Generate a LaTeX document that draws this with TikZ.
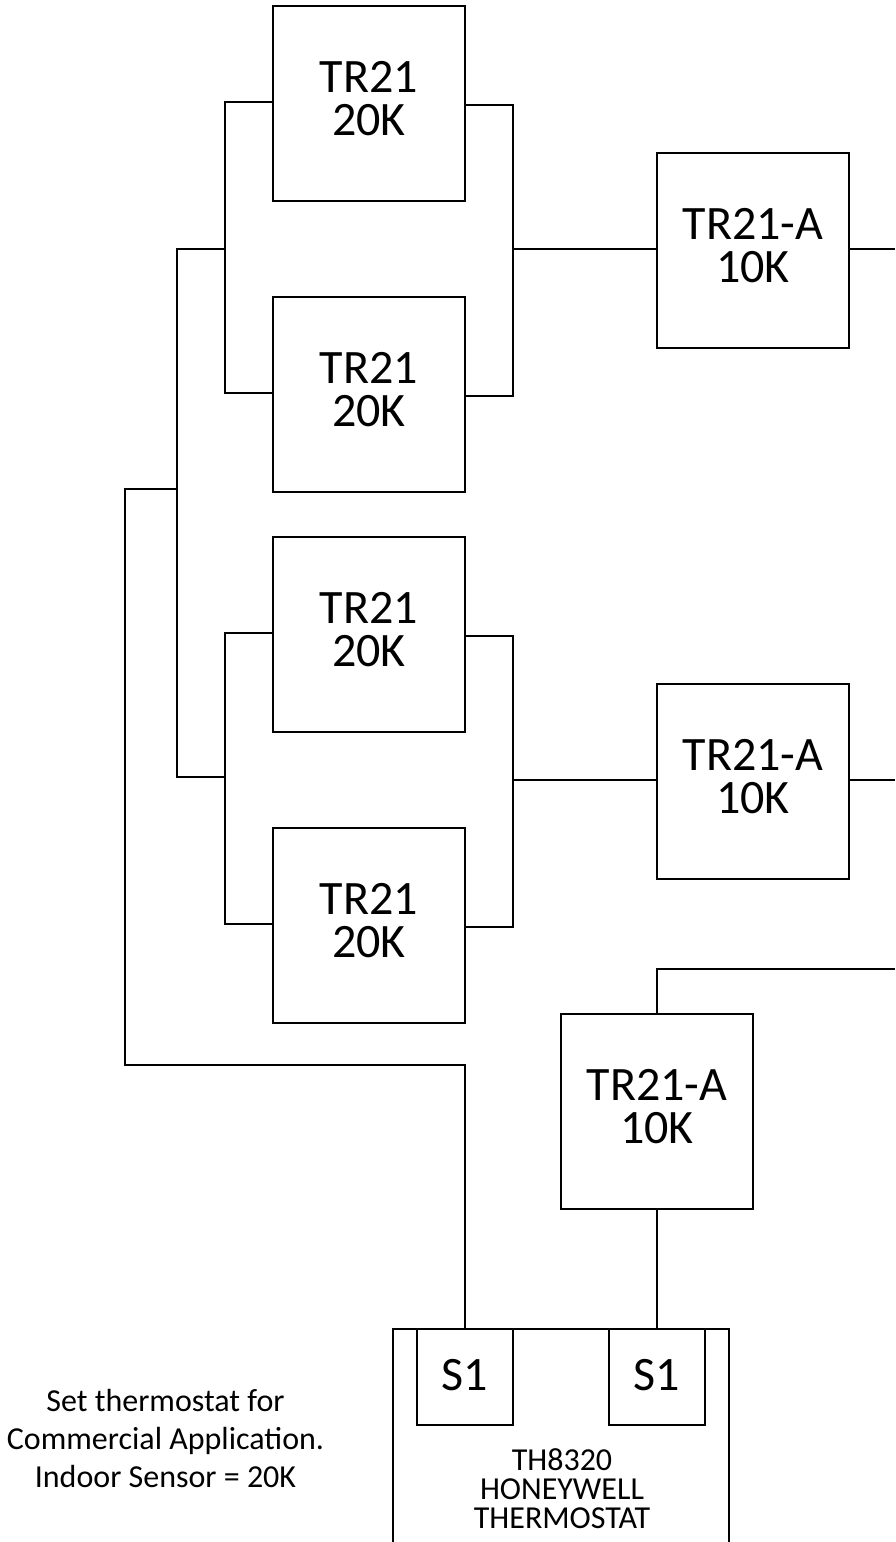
\documentclass[tikz,border=0pt]{standalone}
\usepackage{fontspec}
\setmainfont{Carlito}
\usetikzlibrary{positioning}
\tikzset{
  sensorbox/.style={draw, minimum width=192pt, minimum height=195pt, inner sep=0pt, align=center, text depth=10pt, font=\fontsize{48}{43}\selectfont},
  inputbox/.style={draw, minimum width=96pt, minimum height=96pt, inner sep=0pt, text depth=4pt, font=\fontsize{48}{43}\selectfont},
  wire/.style={line width=2pt},
}
\begin{document}
\begin{tikzpicture}[x=1pt, y=-1pt, line width=2pt]
      \useasboundingbox (0,0) rectangle (895,1542);
      \node[sensorbox] (TRa) at (369,103.5) {TR21\\20K};
      \node[sensorbox] (TRb) at (369,394.5) {TR21\\20K};
      \node[sensorbox] (TRc) at (369,634.5) {TR21\\20K};
      \node[sensorbox] (TRd) at (369,925.5) {TR21\\20K};
      \node[sensorbox] (TRAa) at (753,250.5) {TR21-A\\10K};
      \node[sensorbox] (TRAb) at (753,781.5) {TR21-A\\10K};
      \node[sensorbox] (TRAc) at (657,1111) {TR21-A\\10K};
      \node[inputbox] (Sa) at (465,1377) {S1};
      \node[inputbox] (Sb) at (657,1377) {S1};
      \coordinate (Lab) at (225,249);
      \coordinate (Lcd) at (225,777);
      \coordinate (Rab) at (513,249);
      \coordinate (Rcd) at (513,779.5);
      \coordinate (Bus) at (177,489);
      \coordinate (Ea) at (895,249);
      \coordinate (Eb) at (895,779.5);
      \coordinate (Ec) at (895,969);
      \coordinate (Ta) at (393,1542);
      \coordinate (Tb) at (729,1542);
      \draw[wire] ([yshift=1.5pt]TRa.west) -| (Lab) |- ([yshift=1.5pt]TRb.west);
      \draw[wire] ([yshift=1.5pt]TRc.west) -| (Lcd) |- ([yshift=1.5pt]TRd.west);
      \draw[wire] ([yshift=-1.5pt]TRa.east) -| (Rab) |- ([yshift=-1.5pt]TRb.east);
      \draw[wire] ([yshift=-1.5pt]TRc.east) -| (Rcd) |- ([yshift=-1.5pt]TRd.east);
      \draw[wire] (Lab) -| (Bus) |- (Lcd);
      \draw[wire] (Rab) -- (Rab -| TRAa.west);
      \draw[wire] (Rcd) -- (Rcd -| TRAb.west);
      \draw[wire] (Ea -| TRAa.east) -- (Ea);
      \draw[wire] (Eb -| TRAb.east) -- (Eb);
      \draw[wire] (Bus) -- (125,489) |- (465,1065) -- (Sa.north);
      \draw[wire] (Ec) -| (TRAc.north);
      \draw[wire] (TRAc.south) -- (Sb.north);
      % thermostat is open at the bottom
      \draw[wire] (Ta) -- (393,1329) -- (729,1329) -- (Tb);
      \node[align=center, font=\fontsize{32}{29}\selectfont] (TH) at (562,1489) {TH8320\\HONEYWELL\\THERMOSTAT};
      \node[align=center, font=\fontsize{32}{38}\selectfont] (Note) at (165.5,1438) {Set thermostat for\\Commercial Application.\\Indoor Sensor = 20K};
    \end{tikzpicture}
\end{document}
